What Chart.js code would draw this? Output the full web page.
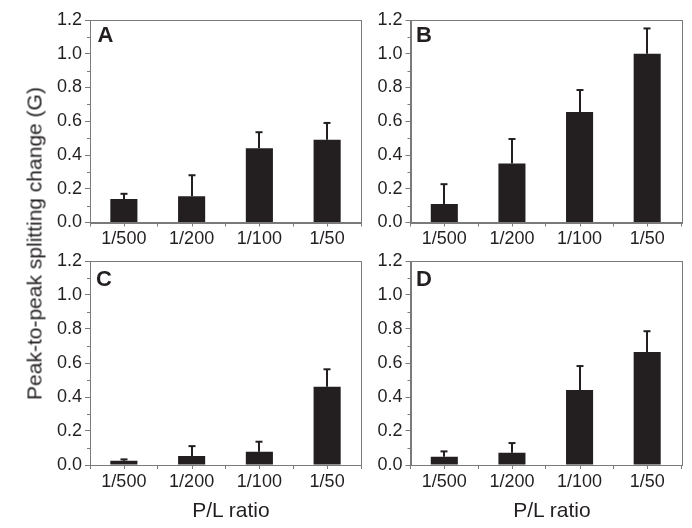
<!DOCTYPE html>
<html>
<head>
<meta charset="utf-8">
<script src="https://cdn.jsdelivr.net/npm/chart.js@4/dist/chart.umd.min.js"></script>
<style>
  html, body { margin: 0; padding: 0; background: #fff; }
  body { width: 692px; height: 528px; position: relative; overflow: hidden; font-family: "Liberation Sans", Arial, sans-serif; }
  canvas { position: absolute; }
  .title { position: absolute; font-size: 21px; line-height: 21px; color: #231f20; white-space: nowrap; text-align: center; }
</style>
</head>
<body>
<canvas id="cA" width="330" height="250" style="left:40px;top:0px;"></canvas>
<canvas id="cB" width="322" height="250" style="left:370px;top:0px;"></canvas>
<canvas id="cC" width="330" height="283" style="left:40px;top:245px;"></canvas>
<canvas id="cD" width="322" height="283" style="left:370px;top:245px;"></canvas>
<div class="title" style="left:-166px;top:233px;width:400px;transform:rotate(-90deg);">Peak-to-peak splitting change (G)</div>
<div class="title" style="left:131px;top:499px;width:200px;">P/L ratio</div>
<div class="title" style="left:452px;top:499px;width:200px;">P/L ratio</div>
<script>
// ---- data ----
const categories = ["1/500", "1/200", "1/100", "1/50"];
const yTicks = [0, 0.2, 0.4, 0.6, 0.8, 1.0, 1.2];
const panelLabels = ["A", "B", "C", "D"];
const valuesA = [0.14, 0.155, 0.44, 0.49];
const errorsA = [0.03, 0.125, 0.095, 0.10];
const valuesB = [0.11, 0.35, 0.655, 1.0];
const errorsB = [0.117, 0.145, 0.13, 0.15];
const valuesC = [0.025, 0.053, 0.078, 0.46];
const errorsC = [0.008, 0.058, 0.059, 0.103];
const valuesD = [0.049, 0.072, 0.441, 0.664];
const errorsD = [0.031, 0.057, 0.141, 0.123];

// ---- styling / layout ----
const INK = "#231f20";
const AXIS = "#7a7a7a";
const FONT = "'Liberation Sans', Arial, sans-serif";
Chart.defaults.font.family = FONT;

const panelsLayout = [
  { id: "cA", label: panelLabels[0], values: valuesA, errors: errorsA, yW: 50,   xH: 27.5, padTop: 20, padRight: 9,  labDx: 7.5, labDy: 21.5 },
  { id: "cB", label: panelLabels[1], values: valuesB, errors: errorsB, yW: 40.5, xH: 27.5, padTop: 20, padRight: 11, labDx: 5.5, labDy: 21.5 },
  { id: "cC", label: panelLabels[2], values: valuesC, errors: errorsC, yW: 50,   xH: 63,   padTop: 16, padRight: 9,  labDx: 6,   labDy: 25 },
  { id: "cD", label: panelLabels[3], values: valuesD, errors: errorsD, yW: 40.5, xH: 63,   padTop: 16, padRight: 11, labDx: 5.5, labDy: 25 }
];

const decorPlugin = {
  id: "decor",
  afterDatasetsDraw(chart, args, opts) {
    const ctx = chart.ctx;
    const ca = chart.chartArea;
    const xs = chart.scales.x, ys = chart.scales.y;
    const meta = chart.getDatasetMeta(0);
    const vals = chart.data.datasets[0].data;
    const errs = opts.errors;
    ctx.save();
    // error bars (upper only)
    ctx.strokeStyle = INK;
    ctx.lineWidth = 2;
    meta.data.forEach((bar, i) => {
      const x = Math.round(bar.x);
      const yTop = ys.getPixelForValue(vals[i] + errs[i]);
      const yBase = ys.getPixelForValue(vals[i]);
      ctx.beginPath();
      ctx.moveTo(x, yBase);
      ctx.lineTo(x, yTop);
      ctx.stroke();
      ctx.beginPath();
      ctx.moveTo(x - 3.5, yTop);
      ctx.lineTo(x + 3.5, yTop);
      ctx.stroke();
    });
    // frame
    ctx.strokeStyle = AXIS;
    ctx.lineWidth = 1;
    ctx.strokeRect(Math.round(ca.left) + 0.5, Math.round(ca.top) + 0.5, Math.round(ca.right - ca.left), Math.round(ca.bottom - ca.top));
    // minor y ticks
    for (let k = 0; k < yTicks.length - 1; k++) {
      const v = (yTicks[k] + yTicks[k + 1]) / 2;
      const y = Math.round(ys.getPixelForValue(v)) + 0.5;
      ctx.beginPath();
      ctx.moveTo(ca.left - 3, y);
      ctx.lineTo(ca.left, y);
      ctx.stroke();
    }
    // category-centre x ticks
    categories.forEach((c, i) => {
      const x = Math.round(xs.getPixelForValue(i)) + 0.5;
      ctx.beginPath();
      ctx.moveTo(x, ca.bottom);
      ctx.lineTo(x, ca.bottom + 4);
      ctx.stroke();
    });
    // panel label
    ctx.fillStyle = INK;
    ctx.font = "bold 22px " + FONT;
    ctx.textBaseline = "alphabetic";
    ctx.textAlign = "left";
    ctx.fillText(opts.label, ca.left + opts.labDx, ca.top + opts.labDy);
    ctx.restore();
  }
};

panelsLayout.forEach(p => {
  new Chart(document.getElementById(p.id), {
    type: "bar",
    data: {
      labels: categories,
      datasets: [{
        data: p.values,
        backgroundColor: INK,
        borderWidth: 0,
        categoryPercentage: 1.0,
        barPercentage: 0.4
      }]
    },
    options: {
      responsive: false,
      animation: false,
      devicePixelRatio: 1,
      layout: { padding: { top: p.padTop, right: p.padRight, left: 0, bottom: 0 } },
      plugins: {
        legend: { display: false },
        tooltip: { enabled: false },
        decor: { errors: p.errors, label: p.label, labDx: p.labDx, labDy: p.labDy }
      },
      scales: {
        x: {
          type: "category",
          offset: true,
          grid: { offset: true, drawOnChartArea: false, tickLength: 4, color: AXIS },
          border: { display: true, color: AXIS },
          ticks: { color: INK, font: { size: 18 }, padding: 2, maxRotation: 0, autoSkip: false },
          afterFit(s) { s.height = p.xH; }
        },
        y: {
          min: yTicks[0],
          max: yTicks[yTicks.length - 1],
          grid: { drawOnChartArea: false, tickLength: 5, color: AXIS },
          border: { display: true, color: AXIS },
          afterBuildTicks(s) { s.ticks = yTicks.map(v => ({ value: v })); },
          ticks: { color: INK, font: { size: 18 }, padding: 3, callback: v => Number(v).toFixed(1) },
          afterFit(s) { s.width = p.yW; }
        }
      }
    },
    plugins: [decorPlugin]
  });
});
</script>
</body>
</html>
